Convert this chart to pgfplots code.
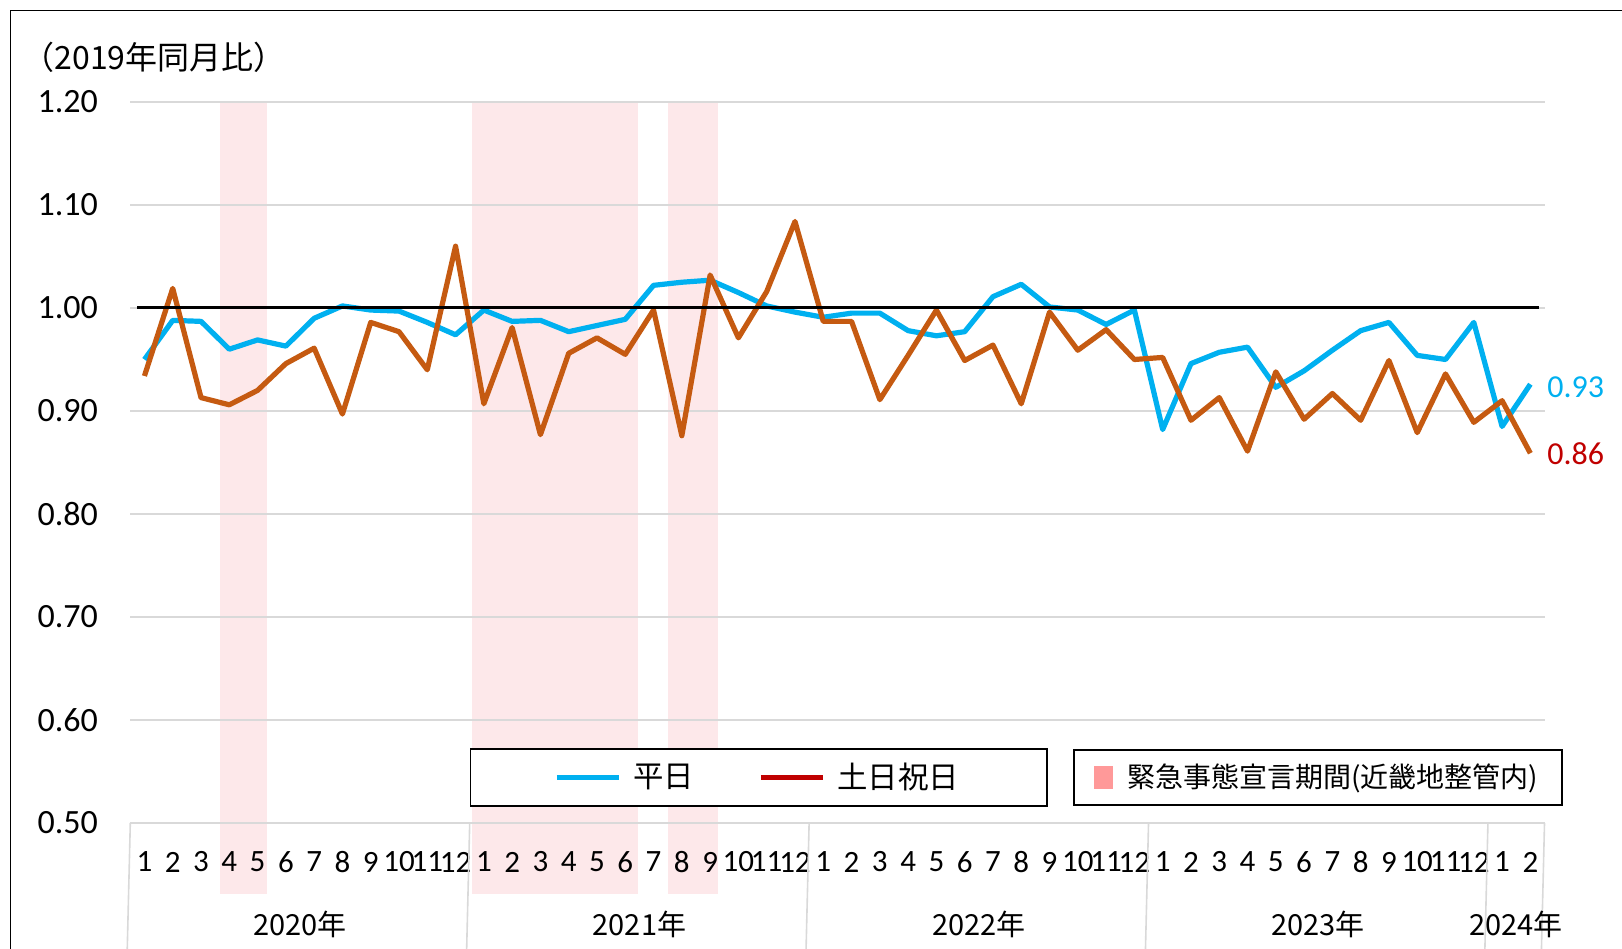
\documentclass[border=0pt]{standalone}
\usepackage{fontspec}
\setmainfont{Carlito}
\newfontfamily\jp{Noto Sans CJK JP}
\usepackage{pgfplots}
\usepackage{pgfplotstable}
\pgfplotsset{compat=1.18}

\definecolor{wkblue}{RGB}{0,176,240}
\definecolor{heorange}{RGB}{197,90,17}
\definecolor{hered}{RGB}{192,0,0}
\definecolor{band}{RGB}{253,232,234}
\definecolor{bandleg}{RGB}{255,153,153}
\definecolor{gridgray}{RGB}{217,217,217}

\pgfplotstableread{
x  wd    hd
1  0.950 0.934
2  0.988 1.019
3  0.987 0.913
4  0.960 0.906
5  0.969 0.920
6  0.963 0.946
7  0.990 0.961
8  1.002 0.897
9  0.998 0.986
10 0.997 0.977
11 0.986 0.940
12 0.974 1.060
13 0.998 0.907
14 0.987 0.981
15 0.988 0.877
16 0.977 0.956
17 0.983 0.971
18 0.989 0.955
19 1.022 0.998
20 1.025 0.876
21 1.027 1.032
22 1.015 0.971
23 1.002 1.016
24 0.996 1.084
25 0.991 0.987
26 0.995 0.987
27 0.995 0.911
28 0.978 0.954
29 0.973 0.998
30 0.977 0.949
31 1.011 0.964
32 1.023 0.907
33 1.001 0.996
34 0.998 0.959
35 0.984 0.979
36 0.998 0.950
37 0.882 0.952
38 0.946 0.891
39 0.957 0.913
40 0.962 0.861
41 0.923 0.938
42 0.939 0.892
43 0.959 0.917
44 0.978 0.891
45 0.986 0.949
46 0.954 0.879
47 0.950 0.936
48 0.986 0.889
49 0.885 0.910
50 0.926 0.859
}\data

\begin{document}
\begin{tikzpicture}
\draw[black, line width=0.6pt] (5.2pt,-30pt) rectangle (840pt,468.85pt);
\node[anchor=west, inner sep=0pt, font=\jp\fontsize{16}{19}\selectfont] at (11.1pt,445.5pt) {（2019年同月比）};

\begin{axis}[
  set layers=standard,
  at={(65.15pt,62.5pt)}, anchor=south west,
  width=707.1pt, height=360.5pt, scale only axis,
  xmin=0.5, xmax=50.5, ymin=0.5, ymax=1.2,
  clip=false,
  axis line style={draw=none},
  major tick length=0pt,
  xtick style={draw=none}, ytick style={draw=none},
  ytick={0.5,0.6,0.7,0.8,0.9,1.0,1.1,1.2},
  yticklabels={0.50,0.60,0.70,0.80,0.90,1.00,1.10,1.20},
  ymajorgrids,
  major grid style={gridgray, line width=0.9pt},
  xtick={1,2,3,4,5,6,7,8,9,10,11,12,13,14,15,16,17,18,19,20,21,22,23,24,25,26,27,28,29,30,31,32,33,34,35,36,37,38,39,40,41,42,43,44,45,46,47,48,49,50},
  xticklabels={1,2,3,4,5,6,7,8,9,10,11,12,1,2,3,4,5,6,7,8,9,10,11,12,1,2,3,4,5,6,7,8,9,10,11,12,1,2,3,4,5,6,7,8,9,10,11,12,1,2},
  xticklabel style={font=\fontsize{15.5}{18}\selectfont, anchor=center, inner sep=0pt, yshift=-19.5pt},
  yticklabel style={font=\fontsize{17}{20}\selectfont, anchor=east, inner sep=0pt, xshift=-16pt},
  legend columns=2,
  legend style={at={(0.4444,0.0631)}, anchor=center, draw=black, line width=0.8pt,
    inner xsep=42pt, inner ysep=5pt,
    font=\jp\fontsize{15.2}{18}\selectfont,
    nodes={inner sep=2pt},
    /tikz/every odd column/.append style={column sep=4pt},
    /tikz/every even column/.append style={column sep=30pt}},
  legend image code/.code={\draw[#1] (0pt,0pt) -- (31pt,0pt);},
]
% emergency declaration periods
\addplot[on layer=axis background, fill=band, draw=none, forget plot] coordinates {(3.68,0.431)(3.68,1.2)(5.33,1.2)(5.33,0.431)};
\addplot[on layer=axis background, fill=band, draw=none, forget plot] coordinates {(12.57,0.431)(12.57,1.2)(18.46,1.2)(18.46,0.431)};
\addplot[on layer=axis background, fill=band, draw=none, forget plot] coordinates {(19.52,0.431)(19.52,1.2)(21.28,1.2)(21.28,0.431)};

\addplot[wkblue, line width=2.6pt, line join=round, forget plot] table[x=x, y=wd] {\data};
\addplot[heorange, line width=2.6pt, line join=round, forget plot] table[x=x, y=hd] {\data};
\addplot[black, line width=1.5pt, forget plot] coordinates {(0.75,1)(50.3,1)};

\addlegendimage{wkblue, line width=2.6pt}
\addlegendentry{平日}
\addlegendimage{hered, line width=2.6pt}
\addlegendentry{土日祝日}

% year separators
\pgfplotsinvokeforeach{0.5,12.5,24.5,36.5,48.5,50.5}{
  \draw[gridgray, line width=0.8pt] (axis cs:#1,0.5) -- ++(0,-70pt);
}
\node[font=\jp\fontsize{14.5}{17}\selectfont, inner sep=0pt] at ([yshift=-50.5pt]axis cs:6.5,0.5) {2020年};
\node[font=\jp\fontsize{14.5}{17}\selectfont, inner sep=0pt] at ([yshift=-50.5pt]axis cs:18.5,0.5) {2021年};
\node[font=\jp\fontsize{14.5}{17}\selectfont, inner sep=0pt] at ([yshift=-50.5pt]axis cs:30.5,0.5) {2022年};
\node[font=\jp\fontsize{14.5}{17}\selectfont, inner sep=0pt] at ([yshift=-50.5pt]axis cs:42.5,0.5) {2023年};
\node[font=\jp\fontsize{14.5}{17}\selectfont, inner sep=0pt] at ([yshift=-50.5pt]axis cs:49.5,0.5) {2024年};
\node[anchor=west, text=wkblue, font=\fontsize{16}{19}\selectfont, xshift=5pt] at (axis cs:50,0.923) {0.93};
\node[anchor=west, text=hered, font=\fontsize{16}{19}\selectfont, xshift=5pt] at (axis cs:50,0.859) {0.86};
\end{axis}

\begin{axis}[
  at={(65.15pt,62.5pt)}, anchor=south west,
  width=707.1pt, height=360.5pt, scale only axis,
  xmin=0.5, xmax=50.5, ymin=0.5, ymax=1.2,
  hide axis,
  legend style={at={(0.8398,0.0631)}, anchor=center, draw=black, line width=0.8pt,
    inner xsep=10pt, inner ysep=5pt,
    font=\jp\fontsize{14}{17}\selectfont,
    nodes={inner sep=2pt},
    /tikz/every odd column/.append style={column sep=5pt}},
  legend image code/.code={\fill[#1] (1.5pt,-5.7pt) rectangle (11.3pt,5.7pt);},
]
\addlegendimage{fill=bandleg, draw=none}
\addlegendentry{緊急事態宣言期間(近畿地整管内)}
\end{axis}

\pgfresetboundingbox
\path[use as bounding box] (0,0) rectangle (811pt,474pt);
\end{tikzpicture}
\end{document}
